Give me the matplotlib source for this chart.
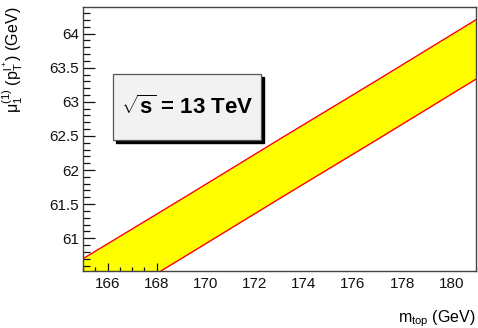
import matplotlib
matplotlib.use("Agg")
import matplotlib.pyplot as plt
from matplotlib.patches import Rectangle
from matplotlib.ticker import MultipleLocator

plt.rcParams['font.family'] = ['Liberation Sans', 'DejaVu Sans']
plt.rcParams['mathtext.fontset'] = 'custom'
plt.rcParams['mathtext.rm'] = 'Liberation Sans'
plt.rcParams['mathtext.it'] = 'Liberation Sans:italic'
plt.rcParams['mathtext.bf'] = 'Liberation Sans:bold'

# band of mu_1^(1)(pT l+) vs top mass
m_top = [165, 169, 173, 177, 181]
upper = [60.70, 61.57, 62.45, 63.32, 64.20]
lower = [59.83, 60.70, 61.58, 62.45, 63.33]

x_range = (165, 181)
y_range = (60.52, 64.39)
x_ticks = [166, 168, 170, 172, 174, 176, 178, 180]
y_ticks = [61, 61.5, 62, 62.5, 63, 63.5, 64]
y_ticklabels = ['61', '61.5', '62', '62.5', '63', '63.5', '64']

fig = plt.figure(figsize=(4.78, 3.28), dpi=100)
ax = fig.add_axes([0.1736, 0.1738, 0.8216, 0.8049])

ax.fill_between(m_top, lower, upper, color='#ffff00', lw=0, zorder=1)
# white area under the band hides the axis ticks, like the original
ax.fill_between(m_top, [y_range[0] - 1] * len(m_top), lower, color='white', lw=0, zorder=3)
ax.plot(m_top, upper, color='#ff0000', lw=1.0, zorder=4)
ax.plot(m_top, lower, color='#ff0000', lw=1.0, zorder=4)

ax.set_xlim(*x_range)
ax.set_ylim(*y_range)
ax.set_xticks(x_ticks)
ax.set_yticks(y_ticks)
ax.set_yticklabels(y_ticklabels)
ax.xaxis.set_minor_locator(MultipleLocator(0.5))
ax.yaxis.set_minor_locator(MultipleLocator(0.1))
ax.tick_params(axis='both', which='both', direction='in', top=False, right=False,
               labelsize=11, colors='#111111', width=0.9)
ax.tick_params(axis='y', which='major', length=8.5, pad=3)
ax.tick_params(axis='y', which='minor', length=5)
ax.tick_params(axis='x', which='major', length=6, pad=4)
ax.tick_params(axis='x', which='minor', length=3)
ax.xaxis.set_zorder(2.5)
ax.yaxis.set_zorder(2.5)
for sp in ax.spines.values():
    sp.set_color('#444444')
    sp.set_linewidth(1.0)
    sp.set_zorder(5)

ax.set_ylabel(r'$\mathrm{\mu}_1^{(1)}$ (p$_\mathrm{T}^{\mathrm{l}^+}$) (GeV)', fontsize=11.5, loc='top')
ax.yaxis.set_label_coords(-0.148, 1.0)
ax.set_xlabel(r'm$_{\mathrm{top}}$ (GeV)', fontsize=11.5, loc='right')
ax.xaxis.set_label_coords(1.0, -0.14)

# sqrt(s) box with shadow
bx, by, bw, bh = 113, 188, 148, 66
fig.patches.append(Rectangle(((bx + 3) / 478, (by - 3) / 328), bw / 478, bh / 328,
                             transform=fig.transFigure, color='black', zorder=6))
fig.patches.append(Rectangle((bx / 478, by / 328), bw / 478, bh / 328,
                             transform=fig.transFigure, facecolor='#f2f2f2',
                             edgecolor='#555555', lw=0.9, zorder=7))
fig.text((bx + bw / 2) / 478, (by + bh / 2) / 328, r'$\sqrt{\mathbf{s}}$ = 13 TeV',
         ha='center', va='center', fontsize=16, fontweight='bold', zorder=8)

fig.savefig('out.png', dpi=100)
